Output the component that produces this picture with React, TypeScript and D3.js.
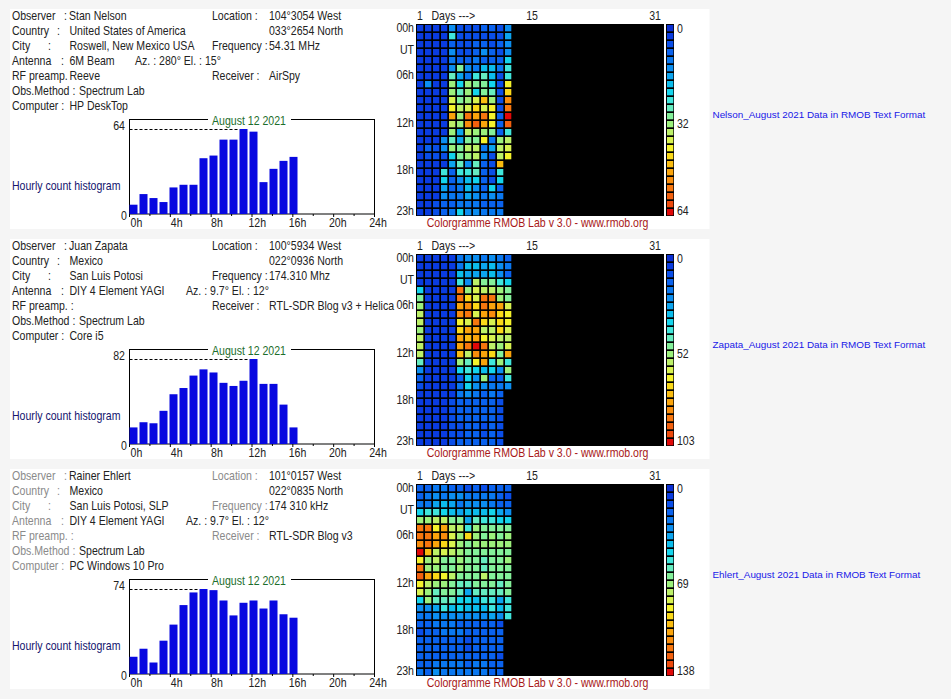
import React from "react";
import * as d3 from "d3";

const FONT = "'Liberation Sans', Arial, sans-serif";

const PALETTE = ["#0a2ed2","#0a3ce0","#0a4ee8","#0a62ee","#0a78f0","#0c8ef0","#0ca4ee","#0cbcec","#14d4ec","#40e6dc","#66ecc0","#84f09a","#9cf07c","#bcf068","#d8f250","#f4f22c","#fad818","#fabc10","#faa40c","#f88c0c","#f6760e","#f2600e","#ee4a0c","#e00808"];

const HOUR_TICKS = [0, 4, 8, 12, 16, 20, 24];
const HOUR_LABELS = [["00h", 0.5], ["UT", 3.2], ["06h", 6.4], ["12h", 12.4], ["18h", 18.3], ["23h", 23.4]] as const;
const DAYS = d3.range(1, 32);
const HOURS = d3.range(0, 24);

const nelsonHist = [7, 15, 12, 9, 20, 22, 22, 42, 44, 56, 56, 64, 62, 24, 34, 40, 43];
const zapataHist = [16, 21, 20, 32, 48, 54, 66, 72, 69, 59, 56, 61, 82, 58, 58, 38, 16];
const ehlertHist = [15, 22, 10, 29, 43, 60, 71, 74, 73, 64, 51, 62, 64, 57, 64, 52, 49];

const nelsonLevels = [
  [1,1,1,1,5,2,2,2,3,3,2,5],
  [1,1,1,1,9,2,2,2,2,2,2,6],
  [1,1,1,1,3,2,2,3,3,2,3,5],
  [1,1,1,1,5,2,2,3,5,3,2,5],
  [1,1,1,1,4,3,3,4,3,3,3,8],
  [1,1,1,1,5,11,5,4,7,7,4,9],
  [1,1,1,1,10,6,4,9,10,7,2,9],
  [1,5,1,1,12,8,12,11,11,8,2,15],
  [1,1,1,1,12,10,12,8,11,10,2,16],
  [1,1,1,1,14,11,12,14,17,12,2,19],
  [1,1,1,1,15,13,14,16,14,15,2,20],
  [1,1,1,1,18,12,20,18,20,15,3,23],
  [1,1,1,1,13,12,19,21,18,15,3,21],
  [1,1,1,1,12,6,13,12,12,11,3,9],
  [1,1,1,5,10,6,11,11,15,4,12,13],
  [1,3,2,5,12,11,13,13,4,6,13,14],
  [1,2,2,2,8,11,12,13,5,2,13,15],
  [1,1,1,1,6,10,5,10,3,2,17],
  [1,1,1,9,3,9,9,10,3,2,9],
  [1,1,1,8,3,5,7,8,3,2,8],
  [1,1,1,6,3,4,7,5,3,8,3],
  [1,1,1,5,4,4,6,5,4,5,4],
  [1,1,2,3,3,4,4,4,3,3,3],
  [1,1,2,3,4,8,5,5,4,4,4],
];

const zapataLevels = [
  [1,1,1,1,1,4,5,5,4,5,4,3],
  [1,1,1,1,1,4,7,7,6,7,5,4],
  [1,1,1,1,1,7,6,6,6,7,5,3],
  [1,1,1,1,1,9,5,13,11,11,9,8],
  [8,1,1,1,1,20,12,14,13,13,12,11],
  [11,1,1,1,1,20,16,14,20,20,12,11],
  [12,1,1,1,1,18,19,16,20,18,18,14],
  [13,1,1,1,1,19,20,14,18,19,16,15],
  [13,1,1,1,1,15,14,20,16,14,16,15],
  [12,1,1,1,1,16,18,18,13,13,16,14],
  [13,1,1,1,1,18,17,18,15,14,13,13],
  [13,1,1,1,1,18,20,23,20,13,12,14],
  [13,1,1,1,1,17,13,19,18,16,11,18],
  [10,1,1,1,1,12,10,15,18,9,12,9],
  [5,1,1,1,1,8,9,8,7,8,5,12],
  [3,1,1,1,1,3,8,5,12,3,3,9],
  [2,1,1,1,1,4,8,5,5,4,4,5],
  [1,1,1,1,1,4,5,4,3,4,3],
  [1,1,1,1,2,3,3,3,3,3,2],
  [1,1,1,1,2,3,3,3,3,3,2],
  [1,1,1,1,2,3,3,3,3,3,2],
  [1,1,1,1,2,2,3,3,2,3,2],
  [1,1,1,1,2,2,3,3,2,3,2],
  [1,1,1,1,2,3,3,3,3,3,2],
];

const ehlertLevels = [
  [3,3,4,4,3,3,2,3,2,3,3,3],
  [3,4,5,4,5,5,4,4,4,4,3,2],
  [4,4,6,7,6,4,5,5,5,4,3,3],
  [8,9,9,8,7,6,7,7,7,8,6,5],
  [12,12,13,13,11,11,6,10,9,9,8,8],
  [20,20,15,18,13,13,9,12,11,11,11,11],
  [20,20,18,19,14,12,16,12,11,12,11,12],
  [19,20,18,16,14,12,11,12,12,12,12,12],
  [23,17,13,14,13,12,11,11,11,11,11,11],
  [15,12,13,11,11,12,11,11,10,11,11,12],
  [20,12,12,11,11,12,11,11,10,11,11,11],
  [21,18,16,15,13,11,11,11,13,11,11,11],
  [15,13,12,12,11,10,10,11,11,11,10,11],
  [14,12,10,11,11,10,6,10,10,10,10,11],
  [8,12,10,10,10,8,8,7,9,9,6,9],
  [5,5,6,9,7,8,7,7,7,9,7,9],
  [4,4,5,5,5,5,5,5,5,6,5,9],
  [3,3,4,4,4,3,3,3,3,3,2],
  [2,3,3,4,4,4,3,3,3,3,3],
  [3,3,3,3,3,3,2,3,3,3,3],
  [3,3,3,3,3,3,2,3,3,3,3],
  [3,3,3,3,3,3,3,3,3,3,2],
  [3,3,4,4,4,4,3,4,4,3,3],
  [4,3,5,4,4,4,4,4,4,3,3],
];

const stations = [
  { name: "Stan Nelson", country: "United States of America", city: "Roswell, New Mexico USA", antenna: "6M Beam", az: "Az. : 280°  El. : 15°", azX: 135, preamp: "Reeve", method: "Spectrum Lab", computer: "HP DeskTop", lon: "104°3054 West", lat: "033°2654 North", freq: "54.31 MHz", rx: "AirSpy", link: "Nelson_August 2021 Data in RMOB Text Format", hist: nelsonHist, levels: nelsonLevels, mid: 32, max: 64, labelColor: "#222" },
  { name: "Juan Zapata", country: "Mexico", city: "San Luis Potosi", antenna: "DIY 4 Element YAGI", az: "Az. : 9.7°  El. : 12°", azX: 186, preamp: "", method: "Spectrum Lab", computer: "Core i5", lon: "100°5934 West", lat: "022°0936 North", freq: "174.310 Mhz", rx: "RTL-SDR Blog v3 + Helica", link: "Zapata_August 2021 Data in RMOB Text Format", hist: zapataHist, levels: zapataLevels, mid: 52, max: 103, labelColor: "#222" },
  { name: "Rainer Ehlert", country: "Mexico", city: "San Luis Potosi, SLP", antenna: "DIY 4 Element YAGI", az: "Az. : 9.7°  El. : 12°", azX: 186, preamp: "", method: "Spectrum Lab", computer: "PC Windows 10 Pro", lon: "101°0157 West", lat: "022°0835 North", freq: "174 310 kHz", rx: "RTL-SDR Blog v3", link: "Ehlert_August 2021 Data in RMOB Text Format", hist: ehlertHist, levels: ehlertLevels, mid: 69, max: 138, labelColor: "#8a8a8a" },
];

const PANEL_STEP = 230;
const rowY = (i: number) => 20 + i * 15;

const xDay = d3.scaleBand<number>().domain(DAYS).range([416, 664]);
const yHour = d3.scaleBand<number>().domain(HOURS).range([24, 216]);
const yLegend = d3.scaleBand<number>().domain(d3.range(PALETTE.length)).range([24, 216]);
const xBar = d3.scaleLinear().domain([0, 24]).range([129.5, 369.5]);
const xTickLabel = d3.scaleLinear().domain([0, 24]).range([136.5, 378]);
const xTick = d3.scaleLinear().domain([0, 24]).range([129.5, 374.5]);

function Txt({ x, y, c = "#222", anchor = "start", size = 12, sx = 0.88, children }: any) {
  return (
    <text transform={`translate(${x},${y}) scale(${sx},1)`} fill={c} textAnchor={anchor} fontSize={size} fontFamily={FONT}>
      {children}
    </text>
  );
}

function Panel({ s, idx }: { s: (typeof stations)[number]; idx: number }) {
  const base = 214;
  const histMax = d3.max(s.hist)!;
  const yH = d3.scaleLinear().domain([0, histMax]).range([base, 129]);
  const peak = s.hist.indexOf(histMax);
  const lc = s.labelColor;
  return (
    <g transform={`translate(0,${idx * PANEL_STEP})`}>
      <rect x={10} y={9} width={699.5} height={220} fill="#fff" />
      <Txt x={12} y={rowY(0)} c={lc}>Observer</Txt><Txt x={64} y={rowY(0)} c={lc}>:</Txt><Txt x={69} y={rowY(0)}>{s.name}</Txt>
      <Txt x={12} y={rowY(1)} c={lc}>Country</Txt><Txt x={57} y={rowY(1)} c={lc}>:</Txt><Txt x={69.5} y={rowY(1)}>{s.country}</Txt>
      <Txt x={12} y={rowY(2)} c={lc}>City</Txt><Txt x={48} y={rowY(2)} c={lc}>:</Txt><Txt x={69.5} y={rowY(2)}>{s.city}</Txt>
      <Txt x={12} y={rowY(3)} c={lc}>Antenna</Txt><Txt x={61} y={rowY(3)} c={lc}>:</Txt><Txt x={69.5} y={rowY(3)}>{s.antenna}</Txt>
      <Txt x={s.azX} y={rowY(3)}>{s.az}</Txt>
      <Txt x={12} y={rowY(4)} c={lc}>{s.preamp ? "RF preamp." : "RF preamp. :"}</Txt><Txt x={69.5} y={rowY(4)}>{s.preamp}</Txt>
      <Txt x={12} y={rowY(5)} c={lc}>Obs.Method :</Txt><Txt x={79} y={rowY(5)}>{s.method}</Txt>
      <Txt x={12} y={rowY(6)} c={lc}>Computer  :</Txt><Txt x={69.5} y={rowY(6)}>{s.computer}</Txt>
      <Txt x={212} y={rowY(0)} c={lc}>Location  :</Txt><Txt x={269} y={rowY(0)}>{s.lon}</Txt>
      <Txt x={269} y={rowY(1)}>{s.lat}</Txt>
      <Txt x={212} y={rowY(2)} c={lc}>Frequency :</Txt><Txt x={269} y={rowY(2)}>{s.freq}</Txt>
      <Txt x={212} y={rowY(4)} c={lc}>Receiver :</Txt><Txt x={269} y={rowY(4)}>{s.rx}</Txt>

      <Txt x={12} y={190} c="#14146e">Hourly count histogram</Txt>
      <rect x={129.5} y={119.5} width={245} height={94.5} fill="none" stroke="#000" />
      <rect x={208} y={116} width={83} height={8} fill="#fff" />
      <Txt x={249} y={125} c="#1c6e2c" anchor="middle">August 12 2021</Txt>
      <line x1={129.5} x2={xBar(peak)} y1={129.5} y2={129.5} stroke="#000" strokeDasharray="3 2" />
      {s.hist.map((v, h) => (
        <rect key={h} x={xBar(h)} y={yH(v)} width={8} height={base - yH(v)} fill="#0808e0" />
      ))}
      {d3.range(0, 25, 2).map((h) => (
        <line key={h} x1={xTick(h)} x2={xTick(h)} y1={214} y2={h % 4 === 0 ? 217 : 216} stroke="#000" />
      ))}
      {HOUR_TICKS.map((h) => (
        <Txt key={h} x={xTickLabel(h)} y={227} anchor="middle">{h}h</Txt>
      ))}
      <Txt x={125} y={130} anchor="end">{histMax}</Txt>
      <Txt x={127} y={220} anchor="end">0</Txt>

      <rect x={416} y={24} width={248} height={192} fill="#000" />
      {s.levels.map((row, h) =>
        row.map((lv, di) => (
          <rect key={`${h}-${di}`} x={xDay(di + 1)! + 1} y={yHour(h)! + 1} width={6.3} height={6.3} fill={PALETTE[lv]} />
        ))
      )}
      <rect x={666} y={24} width={8} height={192} fill="#000" />
      {PALETTE.map((c, i) => (
        <rect key={i} x={667} y={yLegend(i)! + 1} width={6.3} height={6.3} fill={c} />
      ))}
      <Txt x={677} y={32.5}>0</Txt>
      <Txt x={677} y={128}>{s.mid}</Txt>
      <Txt x={677} y={215}>{s.max}</Txt>

      {HOUR_LABELS.map(([t, h]) => (
        <Txt key={t} x={414} y={yHour(0)! + (h as number) * 8 + 4} anchor="end">{t}</Txt>
      ))}
      <Txt x={417} y={20}>1</Txt>
      <Txt x={431.5} y={20}>{"Days --->"}</Txt>
      <Txt x={532} y={20} anchor="middle">15</Txt>
      <Txt x={655} y={20} anchor="middle">31</Txt>
      <Txt x={537.5} y={227} c="#a81818" anchor="middle">Colorgramme RMOB Lab v 3.0 - www.rmob.org</Txt>
      <Txt x={712.5} y={118} c="#1818e8" size={9.9} sx={1}>{s.link}</Txt>
    </g>
  );
}

export default function App() {
  return (
    <svg width={951} height={699} style={{ position: "absolute", left: 0, top: 0 }}>
      <rect width={951} height={699} fill="#f5f5f5" />
      {stations.map((s, i) => <Panel key={s.name} s={s} idx={i} />)}
    </svg>
  );
}
